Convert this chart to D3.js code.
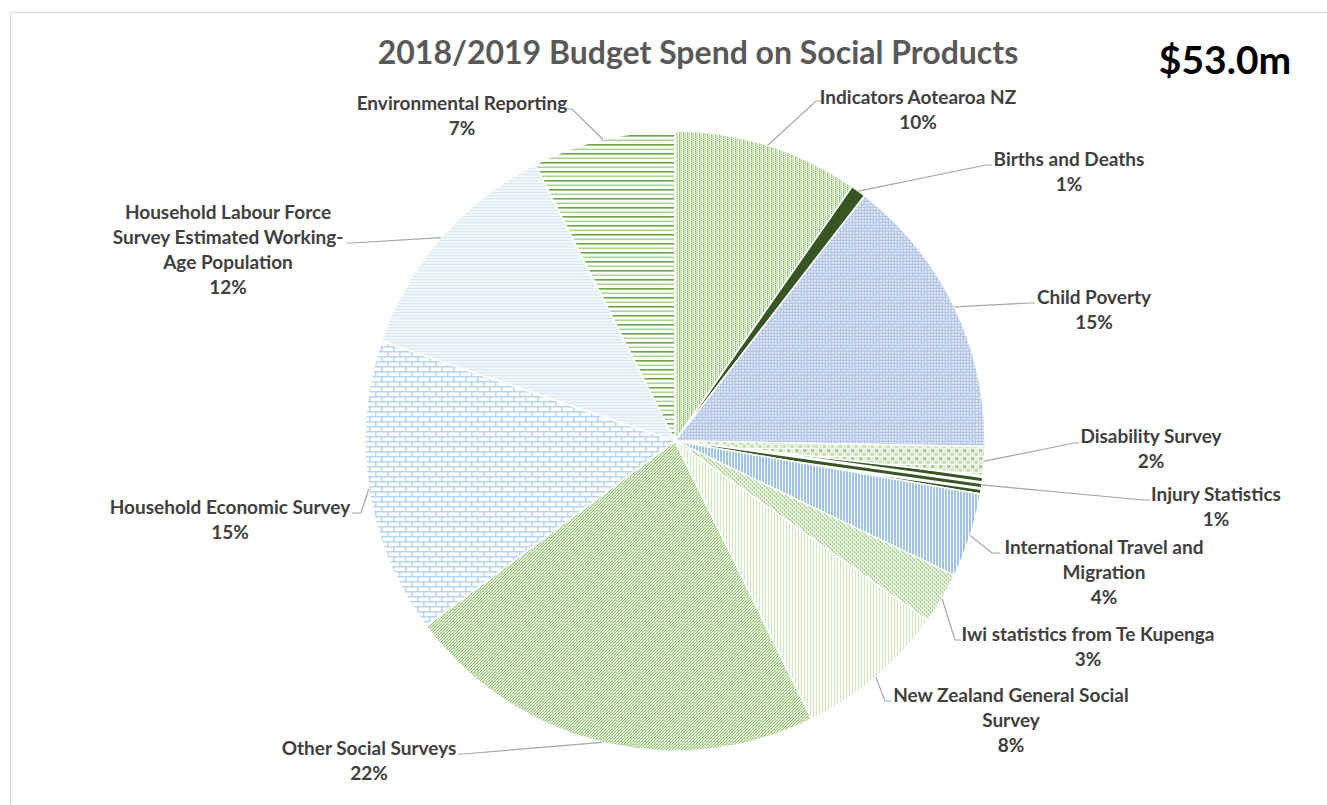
<!DOCTYPE html>
<html>
<head>
<meta charset="utf-8">
<script src="https://cdn.jsdelivr.net/npm/d3@7"></script>
<style>
  html, body { margin: 0; padding: 0; background: #fff; }
  svg { display: block; font-family: Lato, "Open Sans", sans-serif; }
</style>
</head>
<body>
<svg id="chart" width="1327" height="805"></svg>
<script>
// Budget spend per social product, $m (2018/2019)
const categories = [
  "Indicators Aotearoa NZ",
  "Births and Deaths",
  "Child Poverty",
  "Disability Survey",
  "Injury Statistics",
  "International Travel and Migration",
  "Iwi statistics from Te Kupenga",
  "New Zealand General Social Survey",
  "Other Social Surveys",
  "Household Economic Survey",
  "Household Labour Force Survey Estimated Working-Age Population",
  "Environmental Reporting"
];
const spend = [5.13, 0.42, 7.85, 0.80, 0.50, 2.33, 1.43, 4.19, 11.71, 8.16, 6.53, 3.95];

// label text as it wraps on the page
const labelLines = [
  ["Indicators Aotearoa NZ"],
  ["Births and Deaths"],
  ["Child Poverty"],
  ["Disability Survey"],
  ["Injury Statistics"],
  ["International Travel and", "Migration"],
  ["Iwi statistics from Te Kupenga"],
  ["New Zealand General Social", "Survey"],
  ["Other Social Surveys"],
  ["Household Economic Survey"],
  ["Household Labour Force", "Survey Estimated Working-", "Age Population"],
  ["Environmental Reporting"]
];
const titleText = "2018/2019 Budget Spend on Social Products";

// ---- layout ----
const W = 1327, H = 805;
const cx = 675, cy = 441, R = 310;

// label placement: centre x, first line centre y, leader elbow and end
const labelLayout = [
  { x: 918,  y: 97,  elbow: [816, 101], end: [821, 101] },
  { x: 1069, y: 159, elbow: [986, 165], end: [992, 165] },
  { x: 1094, y: 297, elbow: [1030, 303], end: [1035, 303] },
  { x: 1151, y: 436, elbow: [1074, 443], end: [1079, 443] },
  { x: 1216, y: 494, elbow: [1143, 500], end: [1150, 500] },
  { x: 1104, y: 547, elbow: [992, 553], end: [1000, 553] },
  { x: 1088, y: 634, elbow: [955, 640], end: [961, 640] },
  { x: 1011, y: 695, elbow: [885, 701], end: [891, 701] },
  { x: 369,  y: 748, elbow: [463, 754], end: [458, 754] },
  { x: 230,  y: 507, elbow: [361, 513], end: [352, 513] },
  { x: 228,  y: 212, elbow: [352, 243], end: [347, 243] },
  { x: 462,  y: 103, elbow: [572, 109], end: [567, 109] }
];
const lineStep = 25;

// fill textures per slice
const patterns = [
  { id: "p-ind",   w: 4,  h: 2,  bg: "#ffffff", rects: [[0,0,1,1,"#7fb95a"],[0,1,1,1,"#b5d99d"],[1,0,1,2,"#d4eac5"],[2,1,1,1,"#9ccb7c"],[2,0,1,1,"#e3f1d9"]] },
  { id: "p-birth", w: 4,  h: 4,  bg: "#375623", rects: [] },
  { id: "p-child", w: 6,  h: 6,  bg: "#d6e0f2", rects: [[0,0,6,1,"#b4c7e7"],[0,3,6,1,"#b4c7e7"],[0,0,1,6,"#b4c7e7"],[3,0,1,6,"#b4c7e7"],[1,1,1,1,"#ffffff"],[4,4,1,1,"#ffffff"]] },
  { id: "p-dis",   w: 8,  h: 8,  bg: "#e2f0d9", rects: [[0,0,3,3,"#a9d18e"],[4,4,3,3,"#c5e0b4"],[0,7,8,1,"#ffffff"],[7,0,1,8,"#ffffff"]] },
  { id: "p-inj",   w: 6,  h: 6,  bg: "#ffffff", rects: [[0,0,6,3,"#375623"]], rot: 8 },
  { id: "p-trav",  w: 3,  h: 1,  bg: "#ffffff", rects: [[0,0,2,1,"#9dc3e6"]] },
  { id: "p-iwi",   w: 4,  h: 4,  bg: "#f0f7eb", rects: [[0,0,2,1,"#add395"],[2,2,2,1,"#add395"],[1,1,1,1,"#95c676"],[3,3,1,1,"#95c676"]] },
  { id: "p-gss",   w: 3,  h: 1,  bg: "#fafdf8", rects: [[0,0,1,1,"#cfe5c0"]] },
  { id: "p-oss",   w: 3,  h: 3,  bg: "#e9f4e2", rects: [[2,0,1,1,"#8cc06a"],[1,1,1,1,"#8cc06a"],[0,2,1,1,"#8cc06a"],[0,0,1,1,"#bcdba7"]] },
  { id: "p-hes",   w: 12, h: 10, bg: "#ffffff", rects: [[0,0,12,1.5,"#b8d4ee"],[0,5,12,1.5,"#b8d4ee"],[0,0,1.5,5,"#b8d4ee"],[6,5,1.5,5,"#b8d4ee"]] },
  { id: "p-hlfs",  w: 1,  h: 3,  bg: "#f3f8fd", rects: [[0,0,1,1.2,"#dae8f6"]] },
  { id: "p-env",   w: 1,  h: 9,  bg: "#ffffff", rects: [[0,0,1,1.6,"#6aa842"],[0,4.5,1,1.6,"#add394"]] }
];

const svg = d3.select("#chart");

// chart frame
svg.append("rect")
  .attr("x", 10.5).attr("y", 12.5)
  .attr("width", W + 20).attr("height", H + 20)
  .attr("fill", "#fff").attr("stroke", "#d9d9d9").attr("stroke-width", 1);

const defs = svg.append("defs");
patterns.forEach(p => {
  const pt = defs.append("pattern")
    .attr("id", p.id)
    .attr("patternUnits", "userSpaceOnUse")
    .attr("width", p.w).attr("height", p.h);
  if (p.rot) pt.attr("patternTransform", `rotate(${p.rot})`);
  pt.append("rect").attr("width", p.w).attr("height", p.h).attr("fill", p.bg);
  p.rects.forEach(r => pt.append("rect")
    .attr("x", r[0]).attr("y", r[1]).attr("width", r[2]).attr("height", r[3]).attr("fill", r[4]));
});

const data = categories.map((c, i) => ({ name: c, value: spend[i], lines: labelLines[i], layout: labelLayout[i], pat: patterns[i].id }));
const total = d3.sum(spend);
const pct = d3.format(".0%");

const pie = d3.pie().value(d => d.value).sort(null);
const arcs = pie(data);
const arc = d3.arc().innerRadius(0).outerRadius(R);

const g = svg.append("g").attr("transform", `translate(${cx},${cy})`);

g.selectAll("path.slice")
  .data(arcs)
  .join("path")
  .attr("class", "slice")
  .attr("d", arc)
  .attr("fill", d => `url(#${d.data.pat})`)
  .attr("stroke", "#ffffff")
  .attr("stroke-width", 1.5)
  .attr("stroke-linejoin", "round");

// leader lines from the slice's outer edge at mid-angle
const leader = d3.line();
svg.append("g").selectAll("path.leader")
  .data(arcs)
  .join("path")
  .attr("class", "leader")
  .attr("d", d => {
    const a = (d.startAngle + d.endAngle) / 2;
    const p0 = [cx + R * Math.sin(a), cy - R * Math.cos(a)];
    return leader([p0, d.data.layout.elbow, d.data.layout.end]);
  })
  .attr("fill", "none")
  .attr("stroke", "#a6a6a6")
  .attr("stroke-width", 1.2);

// data labels
const lbl = svg.append("g")
  .attr("font-size", 19)
  .attr("font-weight", 700)
  .attr("fill", "#404040")
  .attr("text-anchor", "middle");

arcs.forEach(d => {
  const L = d.data.layout;
  const rows = d.data.lines.concat([pct(d.data.value / total)]);
  const t = lbl.append("text");
  rows.forEach((s, k) => {
    t.append("tspan")
      .attr("x", L.x)
      .attr("y", L.y + k * lineStep)
      .attr("dy", "0.36em")
      .text(s);
  });
});

// title
svg.append("text")
  .attr("x", 698).attr("y", 52).attr("dy", "0.36em")
  .attr("text-anchor", "middle")
  .attr("font-size", 32).attr("font-weight", 700)
  .attr("fill", "#595959")
  .text(titleText);

// total spend
svg.append("text")
  .attr("x", 1225).attr("y", 60).attr("dy", "0.36em")
  .attr("text-anchor", "middle")
  .attr("font-size", 39).attr("font-weight", 700)
  .attr("fill", "#000000")
  .text("$" + d3.format(".1f")(total) + "m");
</script>
</body>
</html>
